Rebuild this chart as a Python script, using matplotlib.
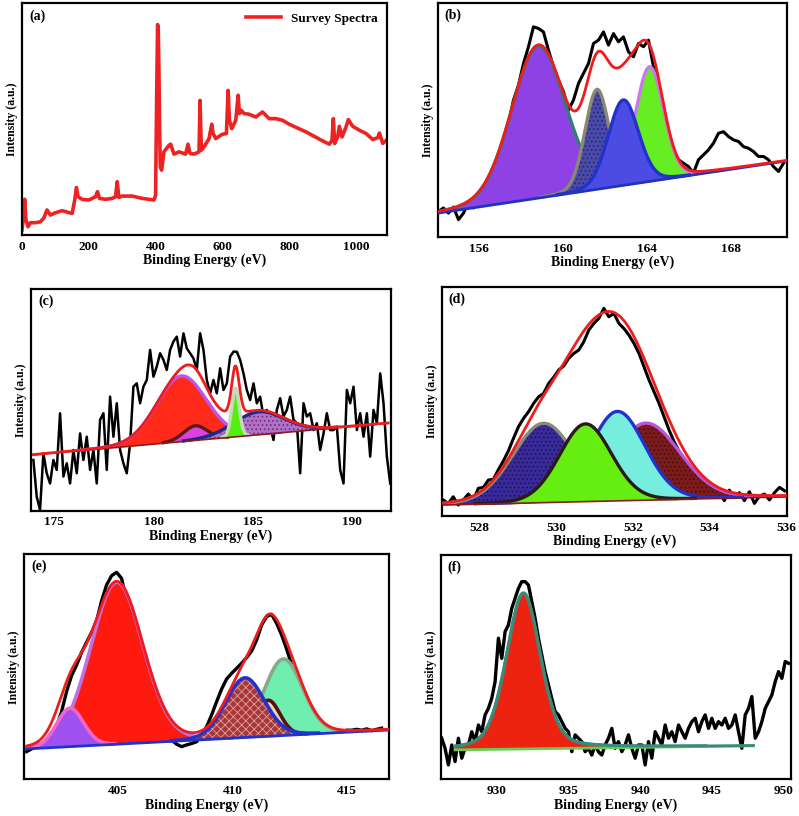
import numpy as np
import matplotlib
matplotlib.use("Agg")
import matplotlib.pyplot as plt

# ---------------- data ----------------
# (a) survey spectrum
A_X = [0, 5, 8, 12, 18, 25, 40, 55, 65, 75, 85, 100, 120, 150, 158, 163, 168, 180, 200, 220,
       226, 232, 250, 270, 280, 285, 290, 300, 330, 360, 395, 400, 403, 406, 408, 410, 412, 414,
       418, 425, 440, 445, 455, 470, 490, 497, 503, 515, 530, 533, 537, 545, 560, 568, 572, 580,
       600, 612, 617, 621, 628, 640, 647, 651, 656, 665, 680, 700, 720, 740, 760, 780, 800, 850,
       900, 920, 928, 932, 936, 945, 950, 958, 970, 977, 990, 1010, 1030, 1050, 1065, 1070, 1080, 1093]
A_Y = [2.2, 7.9, 15.4, 6.5, 3.6, 5.3, 5.3, 5.7, 7.2, 10.8, 8.6, 9.6, 10.5, 9.3, 15.1, 20.5, 16.5, 15.4, 15.1, 16.5,
       18.7, 15.8, 15.4, 15.8, 16.5, 23.0, 16.2, 16.8, 16.8, 15.8, 15.1, 17.2, 58.1, 90.8, 88.2, 70.3, 46.6, 29.4,
       28.0, 35.9, 38.7, 39.2, 34.9, 35.9, 34.9, 39.2, 35.2, 34.9, 35.9, 58.1, 36.6, 38.0, 41.6, 47.8, 43.8, 41.6,
       43.5, 43.8, 62.4, 49.5, 45.9, 49.5, 60.3, 52.4, 53.8, 52.4, 52.1, 50.9, 53.1, 50.2, 50.2, 49.5, 47.8, 44.5,
       40.6, 39.2, 40.9, 50.2, 39.5, 42.3, 46.9, 42.3, 46.6, 49.8, 46.9, 45.2, 43.8, 41.2, 42.0, 44.0, 39.5, 41.2]

# (b) S 2p region
B_START, B_STEP = 154.05, 0.2381
B_RAW = [10.9, 12.4, 10.2, 12.8, 7.4, 10.2, 15.2, 12.4, 16.2, 18.8, 22.3, 27.3, 30.1, 40.1, 48.6, 58.5, 64.9,
         74.1, 81.3, 89.8, 89.1, 87.6, 79.8, 72.7, 67.0, 62.1, 54.3, 58.5, 65.6, 69.9, 74.1, 82.7, 84.1, 87.6,
         82.0, 86.9, 83.4, 85.5, 79.1, 77.0, 82.7, 81.3, 84.1, 72.7, 64.2, 54.3, 44.3, 37.2, 33.0, 31.5, 30.1,
         27.3, 33.0, 35.1, 37.2, 40.1, 44.3, 45.0, 42.9, 41.5, 40.8, 38.6, 37.9, 36.5, 34.4, 34.4, 33.0, 30.1,
         28.0, 31.5]
B_BASE_X = [154.02, 170.64]
B_BASE_Y = [10.2, 32.5]
B_CENTER = [158.8, 161.6, 164.1, 162.85]
B_HEIGHT = [65.0, 42.7, 49.0, 36.5]
B_FWHM = [3.0, 1.35, 1.6, 1.7]

# (c) B 1s region
C_START, C_STEP = 173.95, 0.1678
C_RAW = [22.9, 6.3, 0.3, 25.9, 16.9, 12.3, 22.9, 18.4, 44.0, 15.4,
         21.4, 12.3, 27.4, 16.9, 34.9, 22.9, 33.4, 18.4, 27.4, 12.3,
         41.0, 44.0, 18.4, 51.5, 33.4, 48.5, 27.4, 21.4, 16.9, 30.4,
         56.0, 57.5, 48.5, 56.0, 59.0, 72.6, 60.5, 65.1, 71.1, 68.1,
         63.6, 72.6, 76.4, 78.6, 69.6, 80.1, 73.3, 71.1, 68.8, 63.6,
         80.1, 72.6, 59.0, 53.0, 59.0, 53.0, 64.3, 54.5, 57.5, 69.6,
         71.8, 71.8, 68.1, 62.0, 54.5, 50.0, 57.5, 48.5, 51.5, 42.5,
         45.5, 38.0, 31.9, 45.5, 50.8, 42.5, 45.5, 51.5, 41.0, 39.5,
         16.9, 48.5, 42.5, 44.0, 36.4, 39.5, 27.4, 34.9, 44.0, 36.4,
         36.4, 38.0, 18.4, 12.3, 54.5, 48.5, 56.0, 36.4, 44.0, 33.4,
         44.0, 24.4, 45.5, 39.5, 62.0, 48.5, 24.4, 12.3]
C_BASE_X = [173.95, 191.8]
C_BASE_Y = [25.2, 39.5]
C_CENTER = [181.4, 182.1, 185.3, 184.12]
C_HEIGHT = [29.7, 6.6, 10.4, 22.0]
C_FWHM = [2.95, 1.4, 3.0, 0.45]

# (d) O 1s region
D_START, D_STEP = 527.07, 0.1305
D_RAW = [7.0, 5.5, 8.4, 4.8, 7.0, 9.6, 7.0, 12.1, 12.5, 15.7, 16.0, 20.3, 24.1, 28.5, 33.9, 39.0, 42.6,
         45.5, 49.1, 52.0, 53.5, 57.8, 60.5, 63.7, 65.4, 68.8, 70.9, 72.4, 76.0, 81.1, 84.0, 86.2, 90.6,
         86.9, 88.4, 84.0, 81.8, 78.9, 75.3, 70.9, 65.1, 59.3, 54.2, 49.1, 43.3, 37.5, 32.4, 28.1, 23.7,
         20.1, 17.9, 15.0, 11.6, 10.2, 8.4, 10.6, 6.7, 11.3, 8.1, 10.2, 6.7, 10.6, 5.5, 8.7, 9.6, 7.0,
         10.2, 12.5, 11.0]
D_BASE_X = [527.07, 536.0]
D_BASE_Y = [4.8, 8.4]
D_CENTER = [529.68, 532.34, 531.6, 530.77]
D_HEIGHT = [34.6, 33.6, 39.0, 33.9]
D_FWHM = [1.9, 2.1, 1.7, 1.6]

# (e) N 1s region
E_START, E_STEP = 400.99, 0.2187
E_RAW = [12.3, 13.5, 14.4, 15.3, 16.4, 19.4, 23.4, 30.1, 39.0, 46.1, 50.8, 56.4, 60.9, 65.3, 70.4, 79.3,
         86.4, 90.5, 92.0, 89.3, 79.0, 67.1, 56.7, 46.4, 39.0, 31.6, 25.6, 21.9, 19.0, 17.5, 15.6, 14.5,
         15.3, 15.9, 16.7, 19.7, 23.4, 28.6, 34.5, 40.1, 44.6, 47.1, 49.3, 51.6, 54.1, 57.0, 61.9, 68.6,
         72.3, 73.3, 69.3, 64.1, 57.9, 50.8, 43.4, 36.0, 30.1, 25.6, 23.4, 23.0, 22.4, 21.8, 21.2, 21.2,
         21.8, 21.8, 22.2, 21.8, 22.4, 21.6, 22.2, 22.7]
E_BASE_X = [400.99, 416.81]
E_BASE_Y = [13.5, 21.9]
E_CENTER = [404.93, 402.89, 412.22, 411.56, 410.54]
E_HEIGHT = [72.0, 17.1, 34.0, 16.0, 26.5]
E_FWHM = [2.7, 1.4, 2.0, 1.2, 2.0]

# (f) Cu 2p region
F_START, F_STEP = 926.16, 0.2326
F_RAW = [18.3, 13.8, 6.4, 15.3, 7.9, 18.3, 9.4, 13.8, 15.3, 21.2, 16.8, 24.2, 21.2, 28.7, 31.6, 36.1,
         43.5, 62.9, 53.9, 65.8, 68.8, 76.2, 80.7, 85.1, 88.1, 88.1, 86.6, 79.2, 71.8, 62.9, 55.4, 48.0,
         42.1, 36.1, 30.2, 28.7, 25.7, 22.7, 21.2, 12.3, 19.8, 18.3, 16.8, 12.3, 13.8, 10.8, 15.3, 12.3,
         10.8, 15.3, 18.3, 22.7, 13.8, 16.8, 12.3, 15.3, 19.8, 13.8, 9.4, 15.3, 15.3, 6.4, 16.8, 9.4,
         21.2, 18.3, 15.3, 24.2, 18.3, 21.2, 16.8, 24.2, 21.2, 18.3, 22.7, 25.7, 27.2, 21.2, 25.7, 28.7,
         22.7, 27.2, 22.7, 25.7, 24.2, 27.2, 22.7, 24.2, 28.7, 21.2, 13.8, 28.7, 31.6, 36.9, 18.3, 21.2,
         25.7, 31.6, 34.6, 37.6, 43.5, 48.0, 45.0, 52.5, 51.7]
F_BASE_X = [927.09, 947.9]
F_BASE_Y = [13.1, 14.9]
F_CENTER = [931.86]
F_HEIGHT = [69.5]
F_FWHM = [2.8]

# ---------------- style ----------------
plt.rcParams['font.family'] = ['Liberation Serif', 'DejaVu Serif']
plt.rcParams['font.weight'] = 'bold'
plt.rcParams['axes.labelweight'] = 'bold'
plt.rcParams['hatch.linewidth'] = 0.6

fig = plt.figure(figsize=(7.99, 8.16), dpi=100)


def style(ax, xlim, xticks, label):
    ax.set_xlim(*xlim)
    ax.set_ylim(0, 100)
    ax.set_xticks(xticks)
    ax.set_yticks([])
    ax.tick_params(axis='x', length=0, pad=4, labelsize=9.5)
    for s in ax.spines.values():
        s.set_linewidth(1.6)
    ax.set_xlabel('Binding Energy (eV)', fontsize=10, labelpad=1)
    ax.set_ylabel('Intensity (a.u.)', fontsize=8.5, labelpad=3)
    ax.text(0.02, 0.975, label, transform=ax.transAxes, va='top', ha='left',
            fontsize=10, fontweight='bold')


def pv(x, c, h, w, eta):
    s = w / 2.3548
    return h * ((1 - eta) * np.exp(-(x - c) ** 2 / (2 * s * s)) + eta / (1 + ((x - c) / (w / 2)) ** 2))


def raw(ax, start, step, vals, lw=1.8):
    x = start + step * np.arange(len(vals))
    ax.plot(x, vals, color='black', lw=lw, zorder=1)


def fit(ax, bx, by, centers, heights, fwhms, fills, edges, hatches, hcols,
        env_color='#ee1c1c', base_color='#2233bb', base_lw=2.0, eta=0.1, elw=2.4, env=True):
    x = np.linspace(bx[0], bx[1], 800)
    base = np.interp(x, bx, by)
    comps = [pv(x, c, h, w, eta) for c, h, w in zip(centers, heights, fwhms)]
    for k, comp in enumerate(comps):
        m = comp > 0.25
        z = 2 + 0.1 * k
        ax.fill_between(x, base, base + comp, where=m, facecolor=fills[k],
                        edgecolor=hcols[k] if hatches[k] else 'none',
                        hatch=hatches[k], linewidth=0, zorder=z)
        ax.plot(x, np.where(m, base + comp, np.nan), color=edges[k], lw=elw, zorder=z + 0.05)
    ax.plot(bx, by, color=base_color, lw=base_lw, zorder=3.5)
    if env:
        total = base + np.sum(comps, axis=0)
        ax.plot(x, total, color=env_color, lw=2.0, zorder=4)


# (a)
ax = fig.add_axes([0.0275, 0.712, 0.457, 0.284])
ax.plot(A_X, A_Y, color='#ee2222', lw=2.6, label='Survey Spectra')
style(ax, (0, 1093), [0, 200, 400, 600, 800, 1000], '(a)')
ax.legend(loc='upper right', frameon=False, fontsize=9.5, handlelength=2.6,
          borderaxespad=0.3, prop={'weight': 'bold', 'size': 9.5})

# (b)
ax = fig.add_axes([0.548, 0.7096, 0.4368, 0.2868])
raw(ax, B_START, B_STEP, B_RAW, lw=2.2)
fit(ax, B_BASE_X, B_BASE_Y, B_CENTER, B_HEIGHT, B_FWHM,
    fills=['#8e42e6', '#4a4aa8', '#66ee22', '#4c4ce4'],
    edges=['#2f7f70', '#8a8a70', '#cc77ee', '#2233cc'],
    hatches=[None, '....', None, None],
    hcols=[None, '#222266', None, None], eta=0.1)
style(ax, (154.02, 170.64), [156, 160, 164, 168], '(b)')

# (c)
ax = fig.add_axes([0.0388, 0.3742, 0.4502, 0.2713])
raw(ax, C_START, C_STEP, C_RAW, lw=1.8)
fit(ax, C_BASE_X, C_BASE_Y, C_CENTER, C_HEIGHT, C_FWHM,
    fills=['#ff2a1a', '#e040e0', '#b070c8', '#55ee11'],
    edges=['#bb55ee', '#5a1a1a', '#1a2a8a', '#c8d8b8'],
    hatches=[None, None, '....', None],
    hcols=[None, None, '#6a2a6a', None],
    base_color='#8b1a1a', base_lw=1.2)
style(ax, (173.83, 191.93), [175, 180, 185, 190], '(c)')

# (d)
ax = fig.add_axes([0.5528, 0.3676, 0.4318, 0.2810])
raw(ax, D_START, D_STEP, D_RAW, lw=2.2)
fit(ax, D_BASE_X, D_BASE_Y, D_CENTER, D_HEIGHT, D_FWHM,
    fills=['#3a2a99', '#7a1c1c', '#77eedd', '#66ee11'],
    edges=['#8a8a7a', '#bb55dd', '#2233cc', '#2a1a1a'],
    hatches=['....', '....', None, None],
    hcols=['#1a1050', '#4a0a0a', None, None],
    base_color='#8b1a1a', base_lw=1.2)
style(ax, (527.03, 536.0), [528, 530, 532, 534, 536], '(d)')

# (e)
ax = fig.add_axes([0.0304, 0.045, 0.4568, 0.2757])
raw(ax, E_START, E_STEP, E_RAW, lw=2.4)
fit(ax, E_BASE_X, E_BASE_Y, E_CENTER, E_HEIGHT, E_FWHM,
    fills=['#ff1a10', '#a050ee', '#70eeb0', '#e8d8b8', '#a83838'],
    edges=['#c070e0', '#ee66cc', '#88aa88', '#5a1010', '#2233cc'],
    hatches=[None, None, None, None, 'xxxx'],
    hcols=[None, None, None, None, '#e0a0a0'],
    base_color='#2233cc', base_lw=2.0, elw=2.6)
style(ax, (400.89, 416.85), [405, 410, 415], '(e)')

# (f)
ax = fig.add_axes([0.5516, 0.045, 0.438, 0.2749])
raw(ax, F_START, F_STEP, F_RAW, lw=2.4)
fit(ax, F_BASE_X, F_BASE_Y, F_CENTER, F_HEIGHT, F_FWHM,
    fills=['#ee2211'], edges=['#3a8a7a'], hatches=[None], hcols=[None],
    base_color='#66cc55', base_lw=2.0, eta=0.3, env_color='#3a8a7a')
style(ax, (926.09, 950.5), [930, 935, 940, 945, 950], '(f)')

fig.savefig('out.png', dpi=100)
